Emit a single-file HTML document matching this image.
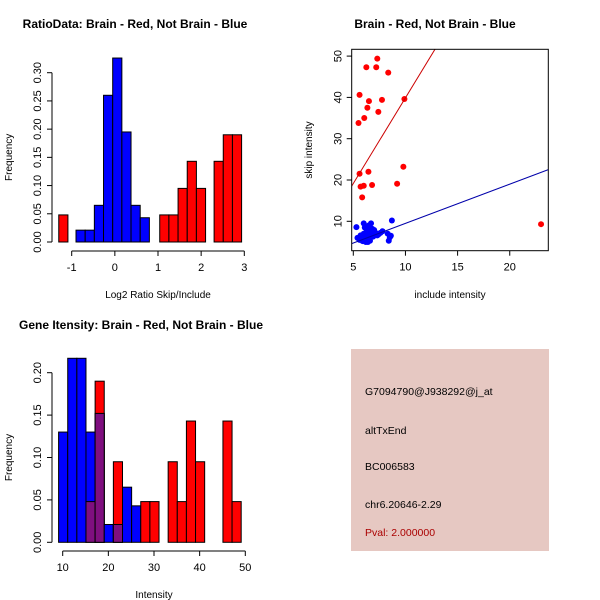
<!DOCTYPE html>
<html><head><meta charset="utf-8"><style>
body{margin:0;background:#fff;}
svg{display:block;font-family:"Liberation Sans",sans-serif;}
</style></head><body>
<svg id="c" width="600" height="600" viewBox="0 0 600 600"></svg>
<script>
// ---- Panel 1: ratio histogram ----
const ratioBinWidth = 0.2125;
const ratioBlueLeft = [-0.9,-0.6875,-0.475,-0.2625,-0.05,0.1625,0.375,0.5875];
const ratioBlueFreq = [0.021,0.021,0.065,0.26,0.326,0.195,0.065,0.043];
const ratioRedLeft = [-1.3,1.04,1.2525,1.465,1.6775,1.89,2.3,2.5125,2.725];
const ratioRedFreq = [0.048,0.048,0.048,0.095,0.143,0.095,0.143,0.19,0.19];
const ratioXTicks = [-1,0,1,2,3];
const ratioYTicks = [0,0.05,0.10,0.15,0.20,0.25,0.30];
// ---- Panel 2: scatter ----
const redInc = [7.3,6.25,7.2,8.35,5.6,6.5,7.75,9.9,6.35,7.4,6.05,5.5,9.8,5.6,6.45,5.7,6.0,6.8,9.2,5.85,23.0];
const redSkip = [49.4,47.3,47.3,46.0,40.6,39.1,39.4,39.6,37.5,36.5,35.0,33.8,23.2,21.5,22.0,18.4,18.6,18.8,19.1,15.8,9.3];
const blueInc = [5.3,6.0,6.7,8.7,5.5,5.8,6.0,6.2,6.4,6.6,6.8,7.0,7.2,7.4,7.6,7.8,5.6,5.9,6.1,6.3,6.5,6.7,6.9,7.1,7.3,5.7,6.0,6.2,6.4,6.6,8.4,8.5,8.3,8.6,6.3,6.8,7.0,5.4,6.1,6.5];
const blueSkip = [8.6,9.5,9.5,10.2,6.0,6.3,6.8,7.2,7.5,7.8,7.4,7.6,7.1,6.8,7.2,7.6,5.5,5.2,5.8,6.2,6.5,6.9,6.3,6.9,6.6,6.6,7.0,5.0,5.0,5.3,5.3,6.1,7.0,6.5,8.0,8.2,7.9,6.0,8.5,9.0];
const redFit = [4.15,-1.6];   // slope, intercept
const blueFit = [0.95,0.0];
const scatXTicks = [5,10,15,20];
const scatYTicks = [10,20,30,40,50];
// ---- Panel 3: intensity histogram ----
const intBinWidth = 2;
const intLeft = [9.1,11.1,13.1,15.1,17.1,19.1,21.1,23.1,25.1,27.1,29.1,31.1,33.1,35.1,37.1,39.1,41.1,43.1,45.1,47.1];
const intBlueFreq = [0.13,0.217,0.217,0.13,0.152,0.021,0.021,0.065,0.043,0,0,0,0,0,0,0,0,0,0,0];
const intRedFreq = [0,0,0,0.048,0.19,0,0.095,0,0,0.048,0.048,0,0.095,0.048,0.143,0.095,0,0,0.143,0.048];
const intXTicks = [10,20,30,40,50];
const intYTicks = [0,0.05,0.10,0.15,0.20];

const NS="http://www.w3.org/2000/svg", svg=document.getElementById('c');
function mk(tag,at,parent){const e=document.createElementNS(NS,tag);for(const k in at)e.setAttribute(k,at[k]);(parent||svg).appendChild(e);return e;}
function txt(s,x,y,o,parent){const e=mk('text',Object.assign({x:x,y:y,'font-size':11,'text-anchor':'middle',fill:'#000'},o||{}),parent);e.textContent=s;return e;}
function fmt2(v){return v.toFixed(2);}

function histPanel(name,title,titleX,titleY,X,Y,xT,yT,xlab,axisY,axisX){
  const g=mk('g',{});
  
  
  const t=txt(title,titleX,titleY,{'font-weight':'bold','font-size':12},g);
  
  
  const xa=mk('g',{},g);
  
  
  mk('line',{x1:X(xT[0]),x2:X(xT[xT.length-1]),y1:axisY,y2:axisY,stroke:'#000'},xa);
  xT.forEach(v=>{mk('line',{x1:X(v),x2:X(v),y1:axisY,y2:axisY+5,stroke:'#000'},xa);
    const l=txt(String(v),X(v),axisY+20,{},xa);
    
    });
  const xt=txt(xlab,(X(xT[0])+X(xT[xT.length-1]))/2,axisY+47,{'font-size':10},g);
  
  
  const ya=mk('g',{},g);
  
  
  const ax=axisX;
  mk('line',{x1:ax,x2:ax,y1:Y(yT[0]),y2:Y(yT[yT.length-1]),stroke:'#000'},ya);
  yT.forEach(v=>{mk('line',{x1:ax-5,x2:ax,y1:Y(v),y2:Y(v),stroke:'#000'},ya);
    const l=txt(fmt2(v),0,0,{transform:`translate(${ax-11},${Y(v)}) rotate(-90)`},ya);
    
    });
  const yt2=txt('Frequency',0,0,{'font-size':10,transform:`translate(12,${(Y(yT[0])+Y(yT[yT.length-1]))/2}) rotate(-90)`},g);
  
  
  return g;
}
function bar(g,X,Y,l,w,h,fill,name){
  const r=mk('rect',{x:X(l),y:Y(h),width:X(l+w)-X(l),height:Y(0)-Y(h),fill:fill,stroke:'#000','stroke-width':1},g);
  
  
}

// Panel 1
{
  const X=v=>71.7+(v+1)*43.15, Y=v=>242-v*564.3;
  const g=histPanel('ratio-histogram','RatioData: Brain - Red, Not Brain - Blue',135,28,X,Y,ratioXTicks,ratioYTicks,'Log2 Ratio Skip/Include',251,52);
  ratioBlueLeft.forEach((l,i)=>bar(g,X,Y,l,ratioBinWidth,ratioBlueFreq[i],'#0000ff','blue-bar'));
  ratioRedLeft.forEach((l,i)=>bar(g,X,Y,l,ratioBinWidth,ratioRedFreq[i],'#ff0000','red-bar'));
}
// Panel 3
{
  const X=v=>62.7+(v-10)*4.565, Y=v=>542.3-v*848;
  const g=histPanel('intensity-histogram','Gene Itensity: Brain - Red, Not Brain - Blue',141,329,X,Y,intXTicks,intYTicks,'Intensity',551,52);
  intLeft.forEach((l,i)=>{
    const b=intBlueFreq[i], r=intRedFreq[i];
    if(b>0) bar(g,X,Y,l,intBinWidth,b,'#0000ff','blue-bar');
    if(r>0){
      if(r>b) bar(g,X,Y,l,intBinWidth,r,'#ff0000','red-bar');
      const m=Math.min(b,r);
      if(m>0) bar(g,X,Y,l,intBinWidth,m,'#7f0f7f','overlap-bar');
    }
  });
}
// Panel 2 scatter
{
  const g=mk('g',{});
  
  
  const L=351.7,R=548.3,T=49.3,B=250.7;
  const X=v=>353.3+(v-5)*10.43, Y=v=>221.3-(v-10)*4.13;
  const cp=mk('clipPath',{id:'cl'},g); mk('rect',{x:L,y:T,width:R-L,height:B-T},cp);
  const t=txt('Brain - Red, Not Brain - Blue',435,28,{'font-weight':'bold','font-size':12},g);
  
  
  const inner=mk('g',{'clip-path':'url(#cl)'},g);
  redInc.forEach((v,i)=>{const c=mk('circle',{cx:X(v),cy:Y(redSkip[i]),r:3,fill:'#ff0000'},inner);
    
    });
  blueInc.forEach((v,i)=>{const c=mk('circle',{cx:X(v),cy:Y(blueSkip[i]),r:3,fill:'#0000ff'},inner);
    
    });
  const rl=mk('line',{x1:X(4),y1:Y(redFit[0]*4+redFit[1]),x2:X(25),y2:Y(redFit[0]*25+redFit[1]),stroke:'#cc0000'},inner);
  
  
  const bl=mk('line',{x1:X(4),y1:Y(blueFit[0]*4+blueFit[1]),x2:X(25),y2:Y(blueFit[0]*25+blueFit[1]),stroke:'#0000aa'},inner);
  
  
  mk('rect',{x:L,y:T,width:R-L,height:B-T,fill:'none',stroke:'#000'},g);
  scatXTicks.forEach(v=>{mk('line',{x1:X(v),x2:X(v),y1:B,y2:B+5,stroke:'#000'},g);
    const l=txt(String(v),X(v),B+20,{},g);
    
    });
  scatYTicks.forEach(v=>{mk('line',{x1:L-5,x2:L,y1:Y(v),y2:Y(v),stroke:'#000'},g);
    const l=txt(String(v),0,0,{transform:`translate(${L-10},${Y(v)}) rotate(-90)`},g);
    
    });
  const xt=txt('include intensity',450,298,{'font-size':10},g);
  
  
  const yt=txt('skip intensity',0,0,{'font-size':10,transform:'translate(312,150) rotate(-90)'},g);
  
  
}
// Info box
{
  const g=mk('g',{});
  
  
  mk('rect',{x:351,y:349,width:198,height:202,fill:'#e6c8c2'},g);
  const lines=[['G7094790@J938292@j_at',395,'#000'],['altTxEnd',434,'#000'],['BC006583',470,'#000'],['chr6.20646-2.29',508,'#000'],['Pval: 2.000000',536,'#aa0000']];
  lines.forEach(a=>{const e=txt(a[0],365,a[1],{'text-anchor':'start','font-size':10.5,fill:a[2]},g);
    
    });
}
</script>
</body></html>
